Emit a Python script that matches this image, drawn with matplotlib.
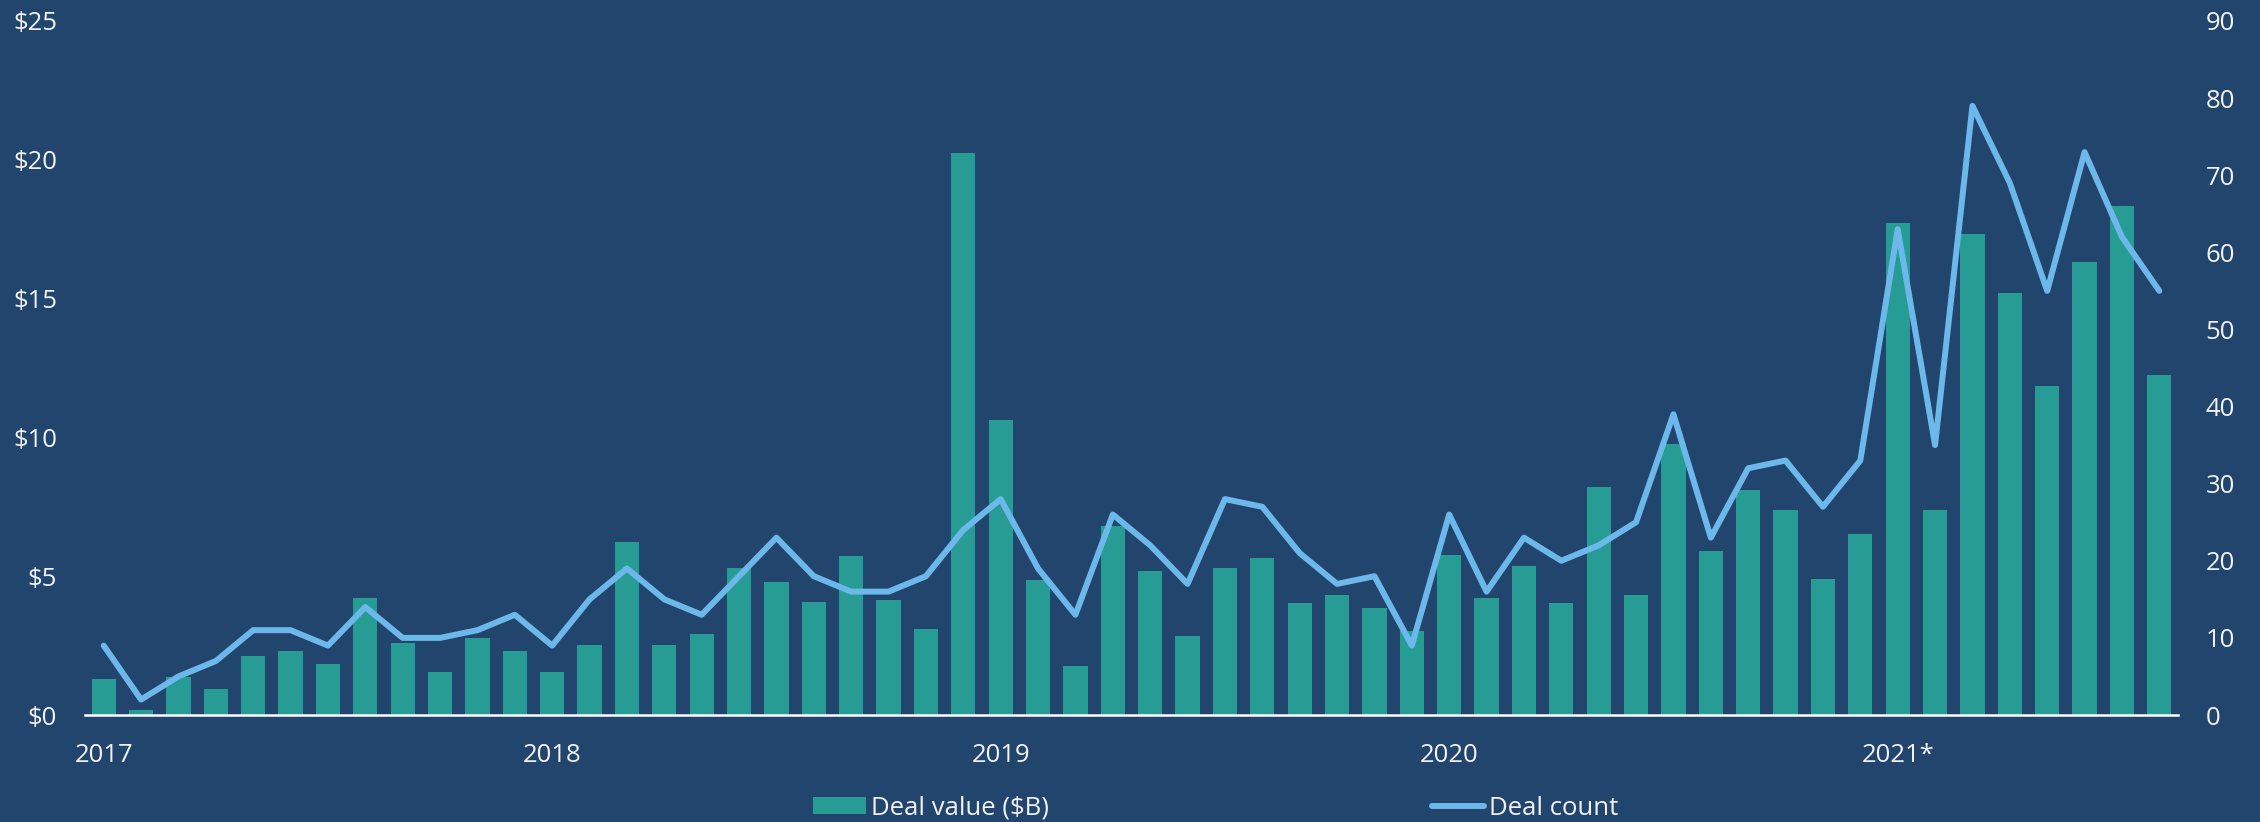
import matplotlib
matplotlib.use("Agg")
import matplotlib.pyplot as plt
from matplotlib.ticker import FuncFormatter

months = [f"{y}-{m:02d}" for y in range(2017, 2022) for m in range(1, 13)][:56]

deal_value = [1.30, 0.19, 1.36, 0.94, 2.13, 2.32, 1.85, 4.21, 2.59, 1.55, 2.76, 2.32,
              1.55, 2.51, 6.25, 2.53, 2.93, 5.29, 4.78, 4.08, 5.74, 4.16, 3.08, 20.23,
              10.62, 4.87, 1.76, 6.80, 5.18, 2.83, 5.31, 5.67, 4.02, 4.31, 3.85, 3.02,
              5.78, 4.21, 5.36, 4.02, 8.22, 4.33, 9.75, 5.91, 8.11, 7.37, 4.91, 6.52,
              17.72, 7.37, 17.33, 15.19, 11.85, 16.33, 18.33, 12.24]

deal_count = [9, 2, 5, 7, 11, 11, 9, 14, 10, 10, 11, 13,
              9, 15, 19, 15, 13, 18, 23, 18, 16, 16, 18, 24,
              28, 19, 13, 26, 22, 17, 28, 27, 21, 17, 18, 9,
              26, 16, 23, 20, 22, 25, 39, 23, 32, 33, 27, 33,
              63, 35, 79, 69, 55, 73, 62, 55]

year_labels = ["2017", "2018", "2019", "2020", "2021*"]
year_label_months = ["2017-01", "2018-01", "2019-01", "2020-01", "2021-01"]

BG = "#22456E"
BAR = "#279C94"
LINE = "#6DB8EA"
TXT = "#F2F2F2"

plt.rcParams['font.family'] = ['Open Sans', 'DejaVu Sans']

fig = plt.figure(figsize=(22.6, 8.22), dpi=100, facecolor=BG)
ax = fig.add_axes([85 / 2260, 1 - 715 / 822, (2178 - 85) / 2260, (715 - 21) / 822])
ax.set_facecolor(BG)

x = list(range(len(months)))
bars = ax.bar(x, deal_value, width=0.65, color=BAR, label="Deal value ($B)", zorder=2)
ax.set_xlim(-0.5, len(months) - 0.5)
ax.set_ylim(0, 25)
ax.set_yticks(range(0, 26, 5))
ax.yaxis.set_major_formatter(FuncFormatter(lambda v, p: f"${int(v)}"))

ax2 = ax.twinx()
line, = ax2.plot(x, deal_count, color=LINE, lw=4.3, solid_joinstyle='round',
                 solid_capstyle='round', label="Deal count", zorder=3)
ax2.set_ylim(0, 90)
ax2.set_yticks(range(0, 91, 10))

ax.set_xticks([months.index(m) for m in year_label_months])
ax.set_xticklabels(year_labels)

for a in (ax, ax2):
    for s in a.spines.values():
        s.set_visible(False)
    a.tick_params(length=0, colors=TXT, labelsize=18.5)
ax.tick_params(axis='y', pad=20)
ax2.tick_params(axis='y', pad=20)
ax.tick_params(axis='x', pad=20)
ax.spines['bottom'].set_visible(True)
ax.spines['bottom'].set_color("white")
ax.spines['bottom'].set_linewidth(1.8)
ax.spines['bottom'].set_zorder(5)

leg = fig.legend([bars, line], ["Deal value ($B)", "Deal count"], ncol=2,
                 loc='center left', bbox_to_anchor=(813 / 2260, 1 - 808 / 822),
                 frameon=False, fontsize=18.5, handlelength=2.05, handletextpad=0.2,
                 columnspacing=14.9, borderaxespad=0, borderpad=0, handleheight=0.65)
for t in leg.get_texts():
    t.set_color(TXT)

fig.savefig("out.png", dpi=100, facecolor=BG)
